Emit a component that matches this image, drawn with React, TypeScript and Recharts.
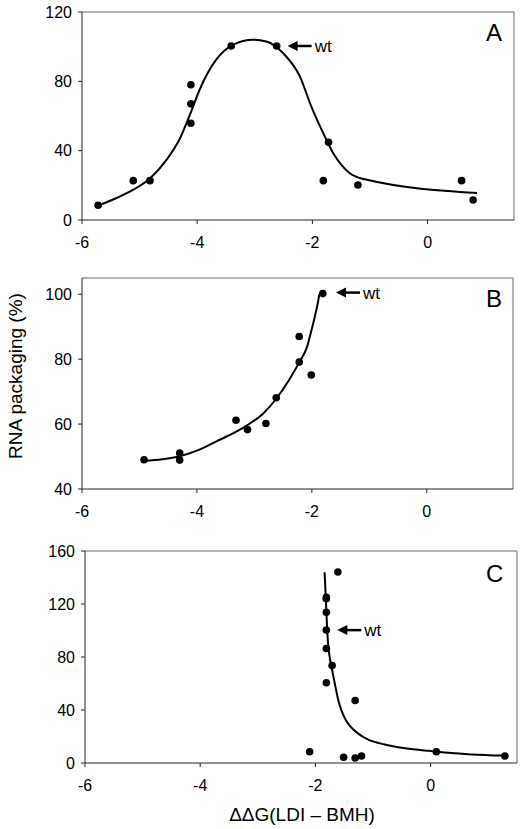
import React from "react";
import { ScatterChart, Scatter, XAxis, YAxis, ReferenceLine, ReferenceDot } from "recharts";

const FONT = '"Liberation Sans", Arial, sans-serif';
const AXIS_COLOR = "#222";
const FRAME_COLOR = "#9a9a9a";

const X_TICKS = [-6, -4, -2, 0];

// Panel A
const aX = [-5.72, -5.11, -4.82, -4.11, -4.11, -4.11, -3.41, -2.62, -1.72, -1.81, -1.21, 0.59, 0.79];
const aY = [8.5, 22.7, 22.7, 78, 67, 55.8, 100.4, 100.4, 44.8, 22.7, 20.2, 22.7, 11.5];
const aFitX = [-5.72, -5.4, -5.11, -4.82, -4.53, -4.3, -4.1, -3.96, -3.67, -3.38, -3.03, -2.8, -2.5, -2.22, -2.02, -1.81, -1.64, -1.35, -1.09, 0.86];
const aFitY = [8.3, 12.7, 17.5, 24, 34.8, 47, 63, 75, 92.5, 101, 104, 103, 96, 83, 65.6, 50, 38.7, 27, 23.5, 15.6];
const aYTicks = [0, 40, 80, 120];

// Panel B
const bX = [-4.92, -4.3, -4.3, -3.32, -3.12, -2.8, -2.62, -2.22, -2.22, -2.01, -1.81];
const bY = [49, 51.1, 48.9, 61.2, 58.3, 60.2, 68.1, 87, 79.1, 75.1, 100.2];
const bFitX = [-4.92, -4.6, -4.3, -4.0, -3.67, -3.3, -3.12, -2.85, -2.62, -2.4, -2.22, -2.08, -2.02, -1.95, -1.9, -1.87];
const bFitY = [48.7, 49.2, 50.1, 51.8, 54.6, 57.8, 59.7, 63.2, 67.8, 73.5, 79, 84, 88, 93, 97, 100];
const bYTicks = [40, 60, 80, 100];

// Panel C
const cX = [-1.61, -1.81, -1.81, -1.81, -1.81, -1.81, -1.71, -1.81, -1.31, -2.1, -1.51, -1.31, -1.2, 0.1, 1.29];
const cY = [144.2, 125, 124, 113.8, 100.3, 86.4, 73.6, 60.6, 47.2, 8.5, 4.3, 3.8, 5.3, 8.5, 5.3];
const cFitX = [-1.84, -1.82, -1.8, -1.78, -1.74, -1.7, -1.65, -1.6, -1.55, -1.48, -1.39, -1.25, -1.1, -0.8, -0.5, -0.1, 0.3, 0.7, 1.29];
const cFitY = [144, 125, 105, 90, 77, 68, 57, 47, 40, 33, 27.5, 22, 18, 14, 11.5, 9.5, 7.7, 6.5, 5.6];
const cYTicks = [0, 40, 80, 120, 160];

const zip = (xs: number[], ys: number[]) => xs.map((x, i) => ({ x, y: ys[i] }));

const WtArrow = (props: any) => {
  const { cx, cy } = props;
  return (
    <g>
      <polygon points={`${cx},${cy} ${cx + 10},${cy - 5} ${cx + 10},${cy + 5}`} fill="#000" />
      <line x1={cx + 9} y1={cy} x2={cx + 24} y2={cy} stroke="#000" strokeWidth={2.5} />
      <text x={cx + 27} y={cy + 6} fontSize={17} fontFamily={FONT} fill="#000">
        wt
      </text>
    </g>
  );
};

const Dot = (props: any) => <circle cx={props.cx} cy={props.cy} r={3.8} fill="#000" />;
const NoDot = () => <g />;

interface PanelProps {
  top: number;
  height: number;
  left: number;
  right: number;
  yDomain: [number, number];
  yTicks: number[];
  points: { x: number; y: number }[];
  fit: { x: number; y: number }[];
  wt: { x: number; y: number };
  letter: string;
  letterTop: number;
}

function Panel({ top, height, left, right, yDomain, yTicks, points, fit, wt, letter, letterTop }: PanelProps) {
  return (
    <div style={{ position: "absolute", left: 0, top, width: 530, height }}>
      <ScatterChart width={530} height={height} margin={{ top: 12, right, bottom: 0, left }}>
        <XAxis
          type="number"
          dataKey="x"
          domain={[-6, 1.5]}
          ticks={X_TICKS}
          allowDataOverflow
          height={32}
          stroke={AXIS_COLOR}
          tickSize={4}
          tickMargin={13}
          tick={{ fill: "#000", fontSize: 16, fontFamily: FONT }}
        />
        <YAxis
          type="number"
          dataKey="y"
          domain={yDomain}
          ticks={yTicks}
          allowDataOverflow
          width={50}
          stroke={AXIS_COLOR}
          tickSize={4}
          tickMargin={6}
          tick={{ fill: "#000", fontSize: 16, fontFamily: FONT }}
        />
        <ReferenceLine y={yDomain[1]} stroke={FRAME_COLOR} strokeWidth={1.5} />
        <ReferenceLine x={1.5} stroke={FRAME_COLOR} strokeWidth={1.5} />
        <Scatter
          data={fit}
          line={{ stroke: "#000", strokeWidth: 2 }}
          lineJointType="monotoneX"
          shape={NoDot}
          isAnimationActive={false}
        />
        <Scatter data={points} shape={Dot} isAnimationActive={false} />
        <ReferenceDot x={wt.x} y={wt.y} shape={WtArrow} />
      </ScatterChart>
      <div
        style={{
          position: "absolute",
          left: 486,
          top: letterTop,
          fontFamily: FONT,
          fontSize: 24,
          lineHeight: "24px",
          color: "#000",
        }}
      >
        {letter}
      </div>
    </div>
  );
}

export default function App() {
  return (
    <div style={{ position: "absolute", left: 0, top: 0, width: 530, height: 829, background: "#fff" }}>
      <Panel
        top={0}
        height={252}
        left={32}
        right={16}
        yDomain={[0, 120]}
        yTicks={aYTicks}
        points={zip(aX, aY)}
        fit={zip(aFitX, aFitY)}
        wt={{ x: -2.43, y: 100.4 }}
        letter="A"
        letterTop={21}
      />
      <Panel
        top={266}
        height={255}
        left={32}
        right={17}
        yDomain={[40, 105]}
        yTicks={bYTicks}
        points={zip(bX, bY)}
        fit={zip(bFitX, bFitY)}
        wt={{ x: -1.58, y: 100.5 }}
        letter="B"
        letterTop={21}
      />
      <Panel
        top={539}
        height={256}
        left={35}
        right={13}
        yDomain={[0, 160]}
        yTicks={cYTicks}
        points={zip(cX, cY)}
        fit={zip(cFitX, cFitY)}
        wt={{ x: -1.62, y: 100.3 }}
        letter="C"
        letterTop={23}
      />
      <div
        style={{
          position: "absolute",
          left: 16,
          top: 376,
          transform: "translate(-50%, -50%) rotate(-90deg)",
          whiteSpace: "nowrap",
          fontFamily: FONT,
          fontSize: 19,
          color: "#000",
        }}
      >
        RNA packaging (%)
      </div>
      <div
        style={{
          position: "absolute",
          left: 302,
          top: 815,
          transform: "translate(-50%, -50%)",
          whiteSpace: "nowrap",
          fontFamily: FONT,
          fontSize: 19,
          color: "#000",
        }}
      >
        ΔΔG(LDI – BMH)
      </div>
    </div>
  );
}
